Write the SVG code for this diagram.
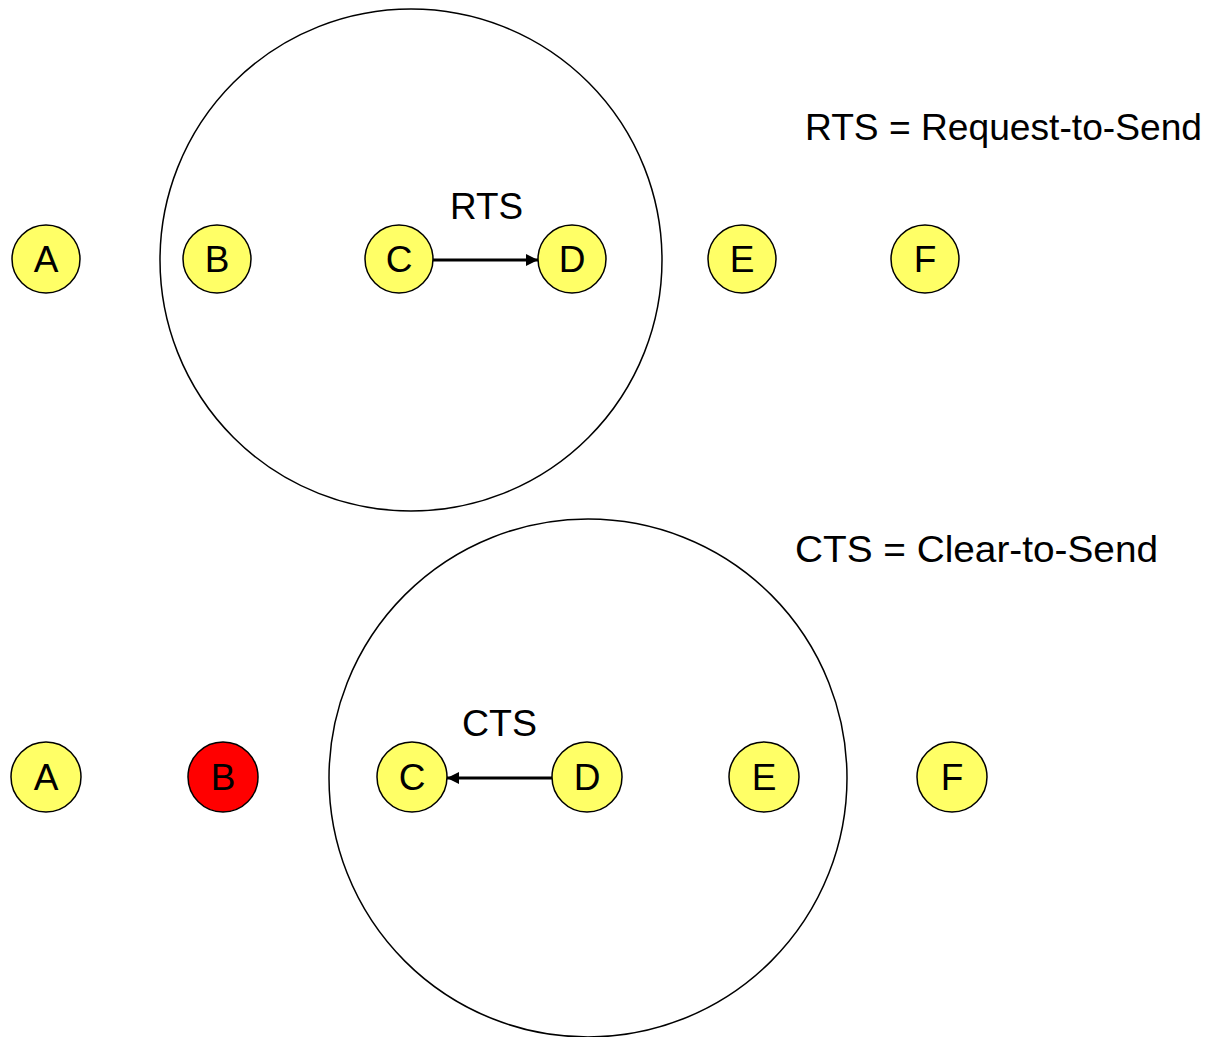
<svg xmlns="http://www.w3.org/2000/svg" width="1213" height="1037" viewBox="0 0 1213 1037">
  <style>
    .range { fill: none; stroke: #000; stroke-width: 1.5; }
    .node circle { fill: #FFFF66; stroke: #000; stroke-width: 1.5; }
    .node.blocked circle { fill: #FF0000; }
    .node text { font-family: "Liberation Sans", Arial, sans-serif; font-size: 37px; text-anchor: middle; dominant-baseline: central; fill: #000; }
    .label { font-family: "Liberation Sans", Arial, sans-serif; font-size: 36px; fill: #000; }
    .link { stroke: #000; stroke-width: 3; fill: none; }
  </style>
  <defs>
    <marker id="arrow" viewBox="0 0 10 10" refX="10" refY="5" markerWidth="4.5" markerHeight="4" orient="auto" markerUnits="strokeWidth">
      <path d="M0,0 L10,5 L0,10 z" fill="#000"/>
    </marker>
  </defs>

  <!-- transmission ranges -->
  <g id="ranges">
    <circle class="range" cx="411" cy="260" r="251"/>
    <circle class="range" cx="588" cy="778" r="259"/>
  </g>

  <!-- legend texts -->
  <text class="label" x="805" y="140" textLength="397" lengthAdjust="spacingAndGlyphs">RTS = Request-to-Send</text>
  <text class="label" x="795" y="562" textLength="363" lengthAdjust="spacingAndGlyphs">CTS = Clear-to-Send</text>

  <!-- connectors -->
  <g id="connectors">
    <line class="link" x1="433" y1="260" x2="538" y2="260" marker-end="url(#arrow)"/>
    <text class="label" x="450" y="219" textLength="73" lengthAdjust="spacingAndGlyphs">RTS</text>
    <line class="link" x1="552" y1="778" x2="447" y2="778" marker-end="url(#arrow)"/>
    <text class="label" x="462" y="736" textLength="75" lengthAdjust="spacingAndGlyphs">CTS</text>
  </g>

  <!-- RTS phase nodes -->
  <g id="top-A" class="node"><circle cx="46" cy="259" r="34"/><text x="46" y="259">A</text></g>
  <g id="top-B" class="node"><circle cx="217" cy="259" r="34"/><text x="217" y="259">B</text></g>
  <g id="top-C" class="node"><circle cx="399" cy="259" r="34"/><text x="399" y="259">C</text></g>
  <g id="top-D" class="node"><circle cx="572" cy="259" r="34"/><text x="572" y="259">D</text></g>
  <g id="top-E" class="node"><circle cx="742" cy="259" r="34"/><text x="742" y="259">E</text></g>
  <g id="top-F" class="node"><circle cx="925" cy="259" r="34"/><text x="925" y="259">F</text></g>

  <!-- CTS phase nodes -->
  <g id="bottom-A" class="node"><circle cx="46" cy="777" r="35"/><text x="46" y="777">A</text></g>
  <g id="bottom-B" class="node blocked"><circle cx="223" cy="777" r="35"/><text x="223" y="777">B</text></g>
  <g id="bottom-C" class="node"><circle cx="412" cy="777" r="35"/><text x="412" y="777">C</text></g>
  <g id="bottom-D" class="node"><circle cx="587" cy="777" r="35"/><text x="587" y="777">D</text></g>
  <g id="bottom-E" class="node"><circle cx="764" cy="777" r="35"/><text x="764" y="777">E</text></g>
  <g id="bottom-F" class="node"><circle cx="952" cy="777" r="35"/><text x="952" y="777">F</text></g>
</svg>
